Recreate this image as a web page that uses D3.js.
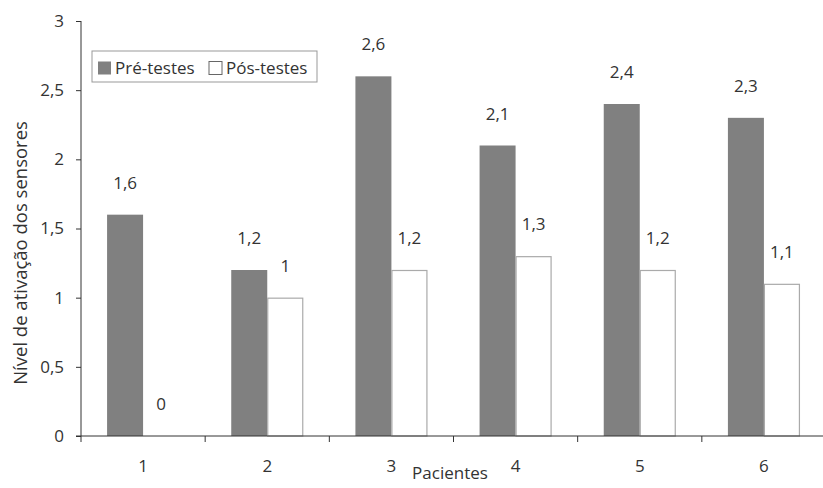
<!DOCTYPE html>
<html><head><meta charset="utf-8">
<script src="https://cdn.jsdelivr.net/npm/d3@7"></script>
<style>body{margin:0;background:#fff}svg{display:block}text{font-family:"Open Sans",Lato,sans-serif;fill:#333}</style>
</head><body><svg id="c" width="823" height="488"></svg>
<script>
const categories = ["1","2","3","4","5","6"];
const series = ["Pré-testes","Pós-testes"];
const preValues = [1.6,1.2,2.6,2.1,2.4,2.3];
const posValues = [0,1,1.2,1.3,1.2,1.1];
const yTicks = [0,0.5,1,1.5,2,2.5,3];
const fmt = v => String(v).replace(".", ",");
const FS = 17;

const svg = d3.select("#c");
const L=81, R=826, T=21, B=436;
const x = d3.scaleBand().domain(categories).range([L,R]);
const y = d3.scaleLinear().domain([0,3]).range([B,T]);
const bw = x.bandwidth()*0.29;
const colors = ["#808080","#ffffff"];
const data = categories.map((c,i)=>({c, vals:[preValues[i], posValues[i]]}));

// bars
data.forEach(d=>{
  d.vals.forEach((v,j)=>{
    const cx = x(d.c)+x.bandwidth()/2 - bw + j*bw;
    if (v>0) svg.append("rect").attr("x",cx+(j?0.5:0)).attr("y",y(v)+(j?0.5:0)).attr("width",bw-(j?1:0)).attr("height",y(0)-y(v)-(j?0.5:0))
      .attr("fill",colors[j]).attr("stroke",j?"#aaa":"none").attr("stroke-width",1.2);
    svg.append("text").attr("x",cx+bw/2).attr("y",y(v)-26).attr("text-anchor","middle").attr("font-size",FS).text(fmt(v));
  });
});

// y axis
const ya = svg.append("g").attr("transform",`translate(${L},0)`).call(d3.axisLeft(y).tickValues(yTicks).tickSize(5).tickPadding(12).tickFormat(fmt));
ya.select(".domain").attr("stroke","#333").attr("d",`M0,${B}V${T}`);
ya.selectAll(".tick line").attr("stroke","#333");
ya.selectAll("text").attr("font-size",FS).attr("font-family","Open Sans").attr("fill","#333");

// x axis
const xa = svg.append("g").attr("transform",`translate(0,${B})`);
xa.append("line").attr("x1",L-5).attr("x2",R).attr("stroke","#333");
const bounds = categories.map(c=>x(c)).concat([x(categories[categories.length-1])+x.bandwidth()]);
bounds.forEach(b=>xa.append("line").attr("x1",b).attr("x2",b).attr("y1",0).attr("y2",6).attr("stroke","#333"));
categories.forEach(c=>xa.append("text").attr("x",x(c)+x.bandwidth()/2).attr("y",36).attr("text-anchor","middle").attr("font-size",FS).text(c));
svg.append("text").attr("x",450).attr("y",479).attr("text-anchor","middle").attr("font-size",FS).text("Pacientes");
svg.append("text").attr("transform","translate(27,253) rotate(-90)").attr("text-anchor","middle").attr("font-size",18.5).text("Nível de ativação dos sensores");

// legend
const lg = svg.append("g");
lg.append("rect").attr("x",92).attr("y",51).attr("width",225).attr("height",31).attr("fill","#fff").attr("stroke","#999");
const lx=[98,209];
series.forEach((s,j)=>{
  lg.append("rect").attr("x",lx[j]).attr("y",61.5).attr("width",13).attr("height",13).attr("fill",colors[j]).attr("stroke",j?"#666":"none");
  lg.append("text").attr("x",lx[j]+17).attr("y",74).attr("font-size",FS).text(s);
});
</script></body></html>
